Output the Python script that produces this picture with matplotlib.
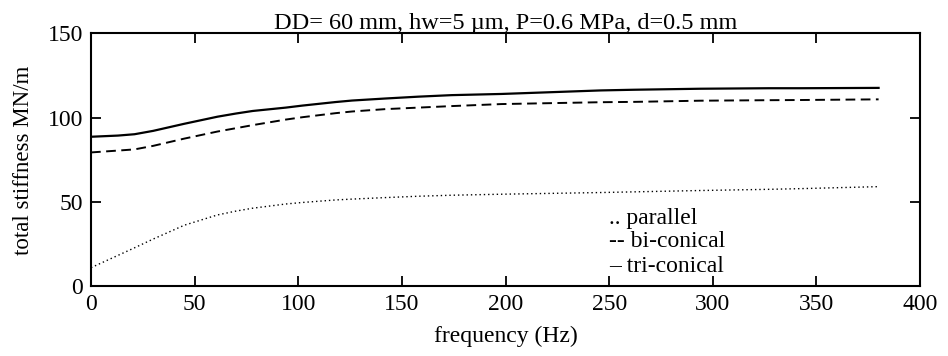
import matplotlib
matplotlib.use("Agg")
import matplotlib.pyplot as plt

plt.rcParams['font.family'] = ['Liberation Serif', 'DejaVu Serif']

freq = [0, 13, 21, 30, 45, 61, 70, 78, 94, 102, 118, 126, 142, 158, 174, 198, 246, 262, 294, 327, 342, 380]
parallel = [11, 18.3, 22.8, 28.0, 36.2, 42.3, 44.6, 46.3, 48.8, 49.7, 51.2, 51.7, 52.6, 53.4, 54.0, 54.6, 55.6, 56.0, 56.8, 57.5, 57.9, 59.1]
biconical = [79.4, 80.5, 81.2, 83.3, 87.6, 91.8, 93.8, 95.6, 98.9, 100.3, 102.7, 103.7, 105.1, 106.0, 106.9, 108.1, 109.2, 109.4, 110.1, 110.4, 110.5, 110.9]
triconical = [88.7, 89.4, 90.2, 92.2, 96.4, 100.6, 102.5, 104.0, 106.0, 107.2, 109.3, 110.2, 111.4, 112.5, 113.4, 114.1, 116.2, 116.6, 117.2, 117.5, 117.5, 117.7]

title = "DD= 60 mm, hw=5 \u00b5m, P=0.6 MPa, d=0.5 mm"
legend_lines = [".. parallel", "-- bi-conical", "\u2013 tri-conical"]

fig = plt.figure(figsize=(9.48, 3.56), dpi=100)
ax = fig.add_axes([0.096, 0.196, 0.8745, 0.71])
ax.plot(freq, parallel, color='black', linestyle=(0, (1, 2.1)), linewidth=1.0)
ax.plot(freq, biconical, color='black', linestyle=(0, (5, 2.8)), linewidth=1.4)
ax.plot(freq, triconical, color='black', linestyle='-', linewidth=1.6)

ax.set_xlim(0, 400)
ax.set_ylim(0, 150)
ax.set_xticks(range(0, 401, 50))
ax.set_yticks([0, 50, 100, 150])
ax.tick_params(direction='in', top=True, right=True, length=7, width=1.3, labelsize=17, pad=5.5)
for s in ax.spines.values():
    s.set_linewidth(1.5)

ax.set_title(title, fontsize=17.5, pad=3)
ax.set_xlabel("frequency (Hz)", fontsize=17, labelpad=8)
ax.set_ylabel("total stiffness MN/m", fontsize=16.5, labelpad=10)

ys = [37.0, 23.0, 8.5]
for t, y in zip(legend_lines, ys):
    ax.text(250, y, t, fontsize=17, va='baseline', ha='left')

fig.savefig("out.png", dpi=100)
